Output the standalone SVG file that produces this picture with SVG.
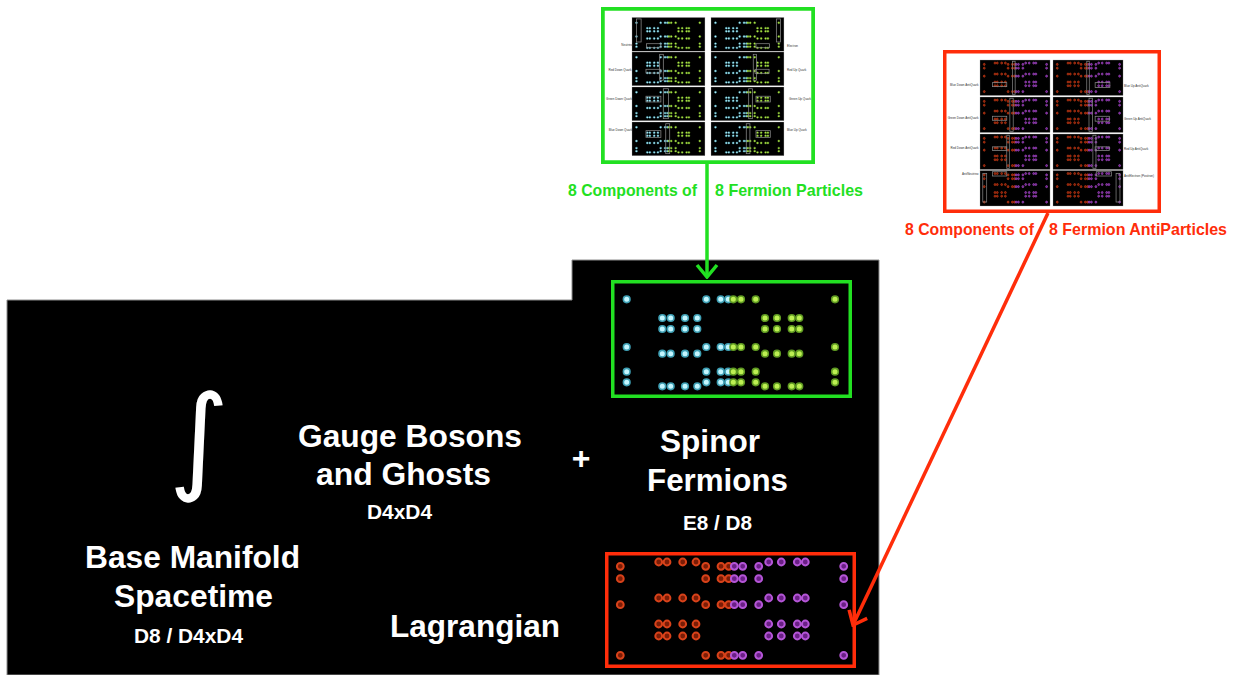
<svg xmlns="http://www.w3.org/2000/svg" xmlns:xlink="http://www.w3.org/1999/xlink" width="1239" height="675" viewBox="0 0 1239 675">
<style>
.big{font-family:"Liberation Sans",Arial,sans-serif;font-weight:bold;fill:#ffffff;font-size:32px}
.sub{font-family:"Liberation Sans",Arial,sans-serif;font-weight:bold;fill:#ffffff;font-size:20px}
.lblg{font-family:"Liberation Sans",Arial,sans-serif;font-weight:bold;fill:#22e022;font-size:17px}
.lblr{font-family:"Liberation Sans",Arial,sans-serif;font-weight:bold;fill:#ff2d0a;font-size:17px}
.tiny{font-family:"Liberation Sans",Arial,sans-serif;fill:#333333;font-size:3px}
.cy circle{fill:#c4f6ff;stroke:#3e9fb4;stroke-width:1.6}
.gr circle{fill:#bdf052;stroke:#5f9a22;stroke-width:1.6}
.og circle{fill:#7a1c06;stroke:#d8421a;stroke-width:2}
.pu circle{fill:#6a1f86;stroke:#b455d6;stroke-width:2}
.mini{fill:#000000;stroke:#a0a0a0;stroke-width:1}
.hl{fill:none;stroke:#8a8a8a;stroke-width:2.5}
.gbox{fill:none;stroke:#22e022;stroke-width:3.5}
.rbox{fill:none;stroke:#ff2d0a;stroke-width:3.5}
</style>
<defs>
<g id="gdots">
<g class="cy">
<circle cx="14.7" cy="18.3" r="3.3"/><circle cx="94.3" cy="18.3" r="3.3"/><circle cx="108.7" cy="18.3" r="3.3"/><circle cx="116.3" cy="18.3" r="3.3"/>
<circle cx="14.7" cy="66" r="3.3"/><circle cx="94.3" cy="66" r="3.3"/><circle cx="108.7" cy="66" r="3.3"/><circle cx="116.3" cy="66" r="3.3"/>
<circle cx="14.7" cy="90.7" r="3.3"/><circle cx="94.3" cy="90.7" r="3.3"/><circle cx="108.7" cy="90.7" r="3.3"/><circle cx="116.3" cy="90.7" r="3.3"/>
<circle cx="14.7" cy="101.3" r="3.3"/><circle cx="94.3" cy="101.3" r="3.3"/><circle cx="108.7" cy="101.3" r="3.3"/><circle cx="116.3" cy="101.3" r="3.3"/>
<circle cx="50.3" cy="37" r="3.3"/><circle cx="58.7" cy="37" r="3.3"/><circle cx="73" cy="37" r="3.3"/><circle cx="85.3" cy="37" r="3.3"/>
<circle cx="50.3" cy="48" r="3.3"/><circle cx="58.7" cy="48" r="3.3"/><circle cx="73" cy="48" r="3.3"/><circle cx="85.3" cy="48" r="3.3"/>
<circle cx="50.3" cy="72.7" r="3.3"/><circle cx="58.7" cy="72.7" r="3.3"/><circle cx="73" cy="72.7" r="3.3"/><circle cx="85.3" cy="72.7" r="3.3"/>
<circle cx="50.3" cy="105.3" r="3.3"/><circle cx="58.7" cy="105.3" r="3.3"/><circle cx="73" cy="105.3" r="3.3"/><circle cx="85.3" cy="105.3" r="3.3"/>
</g>
<g class="gr">
<circle cx="121.3" cy="18.3" r="3.3"/><circle cx="129" cy="18.3" r="3.3"/><circle cx="143.7" cy="18.3" r="3.3"/><circle cx="223" cy="18.3" r="3.3"/>
<circle cx="121.3" cy="66" r="3.3"/><circle cx="129" cy="66" r="3.3"/><circle cx="143.7" cy="66" r="3.3"/><circle cx="223" cy="66" r="3.3"/>
<circle cx="121.3" cy="90.7" r="3.3"/><circle cx="129" cy="90.7" r="3.3"/><circle cx="143.7" cy="90.7" r="3.3"/><circle cx="223" cy="90.7" r="3.3"/>
<circle cx="121.3" cy="101.3" r="3.3"/><circle cx="129" cy="101.3" r="3.3"/><circle cx="143.7" cy="101.3" r="3.3"/><circle cx="223" cy="101.3" r="3.3"/>
<circle cx="153" cy="37" r="3.3"/><circle cx="165" cy="37" r="3.3"/><circle cx="179.7" cy="37" r="3.3"/><circle cx="187.3" cy="37" r="3.3"/>
<circle cx="153" cy="48" r="3.3"/><circle cx="165" cy="48" r="3.3"/><circle cx="179.7" cy="48" r="3.3"/><circle cx="187.3" cy="48" r="3.3"/>
<circle cx="153" cy="72.7" r="3.3"/><circle cx="165" cy="72.7" r="3.3"/><circle cx="179.7" cy="72.7" r="3.3"/><circle cx="187.3" cy="72.7" r="3.3"/>
<circle cx="153" cy="105.3" r="3.3"/><circle cx="165" cy="105.3" r="3.3"/><circle cx="179.7" cy="105.3" r="3.3"/><circle cx="187.3" cy="105.3" r="3.3"/>
</g>
</g>
<g id="rdots">
<g class="og">
<circle cx="15.3" cy="14.3" r="3.4"/><circle cx="100.7" cy="14.3" r="3.4"/><circle cx="116" cy="14.3" r="3.4"/><circle cx="123.7" cy="14.3" r="3.4"/>
<circle cx="15.3" cy="26.7" r="3.4"/><circle cx="100.7" cy="26.7" r="3.4"/><circle cx="116" cy="26.7" r="3.4"/><circle cx="123.7" cy="26.7" r="3.4"/>
<circle cx="15.3" cy="52.7" r="3.4"/><circle cx="100.7" cy="52.7" r="3.4"/><circle cx="116" cy="52.7" r="3.4"/><circle cx="123.7" cy="52.7" r="3.4"/>
<circle cx="15.3" cy="103.3" r="3.4"/><circle cx="100.7" cy="103.3" r="3.4"/><circle cx="116" cy="103.3" r="3.4"/><circle cx="123.7" cy="103.3" r="3.4"/>
<circle cx="53.7" cy="10" r="3.4"/><circle cx="62" cy="10" r="3.4"/><circle cx="77.7" cy="10" r="3.4"/><circle cx="91" cy="10" r="3.4"/>
<circle cx="53.7" cy="46" r="3.4"/><circle cx="62" cy="46" r="3.4"/><circle cx="77.7" cy="46" r="3.4"/><circle cx="91" cy="46" r="3.4"/>
<circle cx="53.7" cy="72" r="3.4"/><circle cx="62" cy="72" r="3.4"/><circle cx="77.7" cy="72" r="3.4"/><circle cx="91" cy="72" r="3.4"/>
<circle cx="53.7" cy="84" r="3.4"/><circle cx="62" cy="84" r="3.4"/><circle cx="77.7" cy="84" r="3.4"/><circle cx="91" cy="84" r="3.4"/>
</g>
<g class="pu">
<circle cx="129.3" cy="14.3" r="3.4"/><circle cx="137.7" cy="14.3" r="3.4"/><circle cx="153.7" cy="14.3" r="3.4"/><circle cx="238.7" cy="14.3" r="3.4"/>
<circle cx="129.3" cy="26.7" r="3.4"/><circle cx="137.7" cy="26.7" r="3.4"/><circle cx="153.7" cy="26.7" r="3.4"/><circle cx="238.7" cy="26.7" r="3.4"/>
<circle cx="129.3" cy="52.7" r="3.4"/><circle cx="137.7" cy="52.7" r="3.4"/><circle cx="153.7" cy="52.7" r="3.4"/><circle cx="238.7" cy="52.7" r="3.4"/>
<circle cx="129.3" cy="103.3" r="3.4"/><circle cx="137.7" cy="103.3" r="3.4"/><circle cx="153.7" cy="103.3" r="3.4"/><circle cx="238.7" cy="103.3" r="3.4"/>
<circle cx="163.7" cy="10" r="3.4"/><circle cx="176.3" cy="10" r="3.4"/><circle cx="192.3" cy="10" r="3.4"/><circle cx="200.3" cy="10" r="3.4"/>
<circle cx="163.7" cy="46" r="3.4"/><circle cx="176.3" cy="46" r="3.4"/><circle cx="192.3" cy="46" r="3.4"/><circle cx="200.3" cy="46" r="3.4"/>
<circle cx="163.7" cy="72" r="3.4"/><circle cx="176.3" cy="72" r="3.4"/><circle cx="192.3" cy="72" r="3.4"/><circle cx="200.3" cy="72" r="3.4"/>
<circle cx="163.7" cy="84" r="3.4"/><circle cx="176.3" cy="84" r="3.4"/><circle cx="192.3" cy="84" r="3.4"/><circle cx="200.3" cy="84" r="3.4"/>
</g>
</g>
<marker id="ag" viewBox="0 0 16 24" refX="14" refY="12" markerWidth="16" markerHeight="24" markerUnits="userSpaceOnUse" orient="auto">
<path d="M2,2 L14,12 L2,22" fill="none" stroke="#22e022" stroke-width="3.5" stroke-linejoin="miter"/>
</marker>
<marker id="ar" viewBox="0 0 16 24" refX="14" refY="12" markerWidth="16" markerHeight="24" markerUnits="userSpaceOnUse" orient="auto">
<path d="M2,2 L14,12 L2,22" fill="none" stroke="#ff2d0a" stroke-width="3.5" stroke-linejoin="miter"/>
</marker>
</defs>

<rect width="1239" height="675" fill="#ffffff"/>

<g id="background">
<path d="M7,300 H572 V260 H879 V675 H7 Z" fill="#000000" stroke="#8c8c8c" stroke-width="1"/>
</g>

<g id="node-particle-thumbnails">
<rect class="gbox" x="602.75" y="8.75" width="210.5" height="153.5" fill="#ffffff"/>
<rect class="gbox" x="602.75" y="8.75" width="210.5" height="153.5"/>
<g transform="translate(632,17.5) scale(0.304,0.288)"><rect class="mini" x="0" y="0" width="240" height="117" stroke-width="3"/><use href="#gdots"/><rect class="hl" x="15" y="5" width="15" height="80"/><rect class="hl" x="48" y="91" width="47" height="14"/></g>
<g transform="translate(711,17.5) scale(0.304,0.288)"><rect class="mini" x="0" y="0" width="240" height="117" stroke-width="3"/><use href="#gdots"/><rect class="hl" x="215" y="5" width="14" height="80"/><rect class="hl" x="148" y="91" width="44" height="14"/></g>
<g transform="translate(632,52) scale(0.304,0.288)"><rect class="mini" x="0" y="0" width="240" height="117" stroke-width="3"/><use href="#gdots"/><rect class="hl" x="91" y="8" width="12" height="90"/><rect class="hl" x="46" y="60" width="49" height="13"/></g>
<g transform="translate(711,52) scale(0.304,0.288)"><rect class="mini" x="0" y="0" width="240" height="117" stroke-width="3"/><use href="#gdots"/><rect class="hl" x="139" y="8" width="11" height="90"/><rect class="hl" x="145" y="60" width="46" height="14"/></g>
<g transform="translate(632,87) scale(0.304,0.288)"><rect class="mini" x="0" y="0" width="240" height="117" stroke-width="3"/><use href="#gdots"/><rect class="hl" x="103" y="6" width="17" height="104"/><rect class="hl" x="46" y="32" width="49" height="20"/></g>
<g transform="translate(711,87) scale(0.304,0.288)"><rect class="mini" x="0" y="0" width="240" height="117" stroke-width="3"/><use href="#gdots"/><rect class="hl" x="124" y="6" width="12" height="104"/><rect class="hl" x="148" y="32" width="47" height="20"/></g>
<g transform="translate(632,122) scale(0.304,0.288)"><rect class="mini" x="0" y="0" width="240" height="117" stroke-width="3"/><use href="#gdots"/><rect class="hl" x="111" y="6" width="13" height="104"/><rect class="hl" x="46" y="30" width="49" height="24"/></g>
<g transform="translate(711,122) scale(0.304,0.288)"><rect class="mini" x="0" y="0" width="240" height="117" stroke-width="3"/><use href="#gdots"/><rect class="hl" x="116" y="6" width="12" height="104"/><rect class="hl" x="148" y="30" width="47" height="24"/></g>
<text class="tiny" x="627" y="46" text-anchor="middle">Neutrino</text>
<text class="tiny" x="620" y="71" text-anchor="middle">Red Down Quark</text>
<text class="tiny" x="619" y="100" text-anchor="middle">Green Down Quark</text>
<text class="tiny" x="620.5" y="131" text-anchor="middle">Blue Down Quark</text>
<text class="tiny" x="787" y="47">Electron</text>
<text class="tiny" x="787" y="71">Red Up Quark</text>
<text class="tiny" x="789" y="100">Green Up Quark</text>
<text class="tiny" x="787" y="131">Blue Up Quark</text>
</g>

<g id="node-antiparticle-thumbnails">
<rect class="rbox" x="944.75" y="51.75" width="214.5" height="159.5" fill="#ffffff"/>
<g transform="translate(980,60) scale(0.279,0.306)"><rect class="mini" x="0" y="0" width="251" height="116" stroke-width="3"/><use href="#rdots"/><rect class="hl" x="117" y="4" width="9" height="108"/><rect class="hl" x="45" y="74" width="51" height="13"/></g>
<g transform="translate(1053,60) scale(0.279,0.306)"><rect class="mini" x="0" y="0" width="251" height="116" stroke-width="3"/><use href="#rdots"/><rect class="hl" x="121" y="4" width="9" height="108"/><rect class="hl" x="151" y="74" width="53" height="16"/></g>
<g transform="translate(980,97) scale(0.279,0.306)"><rect class="mini" x="0" y="0" width="251" height="116" stroke-width="3"/><use href="#rdots"/><rect class="hl" x="107" y="4" width="12" height="108"/><rect class="hl" x="45" y="63" width="51" height="13"/></g>
<g transform="translate(1053,97) scale(0.279,0.306)"><rect class="mini" x="0" y="0" width="251" height="116" stroke-width="3"/><use href="#rdots"/><rect class="hl" x="129" y="4" width="13" height="108"/><rect class="hl" x="151" y="63" width="52" height="16"/></g>
<g transform="translate(980,134) scale(0.279,0.306)"><rect class="mini" x="0" y="0" width="251" height="116" stroke-width="3"/><use href="#rdots"/><rect class="hl" x="96" y="4" width="9" height="108"/><rect class="hl" x="45" y="42" width="51" height="12"/></g>
<g transform="translate(1053,134) scale(0.279,0.306)"><rect class="mini" x="0" y="0" width="251" height="116" stroke-width="3"/><use href="#rdots"/><rect class="hl" x="143" y="4" width="11" height="108"/><rect class="hl" x="151" y="42" width="52" height="12"/></g>
<g transform="translate(980,170.5) scale(0.279,0.306)"><rect class="mini" x="0" y="0" width="251" height="116" stroke-width="3"/><use href="#rdots"/><rect class="hl" x="10" y="10" width="14" height="93"/><rect class="hl" x="45" y="4" width="51" height="14"/></g>
<g transform="translate(1053,170.5) scale(0.279,0.306)"><rect class="mini" x="0" y="0" width="251" height="116" stroke-width="3"/><use href="#rdots"/><rect class="hl" x="226" y="10" width="14" height="93"/><rect class="hl" x="155" y="4" width="55" height="14"/></g>
<text class="tiny" x="978.5" y="86" text-anchor="end">Blue Down AntiQuark</text>
<text class="tiny" x="978.5" y="119" text-anchor="end">Green Down AntiQuark</text>
<text class="tiny" x="978.5" y="149" text-anchor="end">Red Down AntiQuark</text>
<text class="tiny" x="978.5" y="175" text-anchor="end">AntiNeutrino</text>
<text class="tiny" x="1124" y="86.5">Blue Up AntiQuark</text>
<text class="tiny" x="1124" y="119.5">Green Up AntiQuark</text>
<text class="tiny" x="1124" y="149.5">Red Up AntiQuark</text>
<text class="tiny" x="1124" y="176.5">AntiElectron (Positron)</text>
</g>

<g id="node-label-particles">
<text class="lblg" x="568" y="196" textLength="129" lengthAdjust="spacingAndGlyphs">8 Components of</text>
<text class="lblg" x="715" y="196" textLength="148" lengthAdjust="spacingAndGlyphs">8 Fermion Particles</text>
</g>
<g id="node-label-antiparticles">
<text class="lblr" x="905" y="235" textLength="129" lengthAdjust="spacingAndGlyphs">8 Components of</text>
<text class="lblr" x="1049" y="235" textLength="178" lengthAdjust="spacingAndGlyphs">8 Fermion AntiParticles</text>
</g>

<g id="node-fermion-panel">
<use href="#gdots" transform="translate(612,281)"/>
<rect class="gbox" x="612.75" y="281.75" width="237.5" height="114.5"/>
</g>

<g id="node-antifermion-panel">
<use href="#rdots" transform="translate(605,552)"/>
<rect class="rbox" x="606.75" y="553.75" width="247.5" height="112.5"/>
</g>

<g id="node-integral">
<text x="199" y="478" font-family="DejaVu Sans, sans-serif" font-size="116" fill="#ffffff" text-anchor="middle">∫</text>
</g>
<g id="node-gauge">
<text class="big" x="298" y="447" textLength="224" lengthAdjust="spacingAndGlyphs">Gauge Bosons</text>
<text class="big" x="316" y="485" textLength="175" lengthAdjust="spacingAndGlyphs">and Ghosts</text>
<text class="sub" x="367" y="519" textLength="65" lengthAdjust="spacingAndGlyphs">D4xD4</text>
</g>
<g id="node-plus">
<text class="big" x="581" y="469" text-anchor="middle">+</text>
</g>
<g id="node-spinor">
<text class="big" x="660" y="452" textLength="100" lengthAdjust="spacingAndGlyphs">Spinor</text>
<text class="big" x="647" y="491" textLength="141" lengthAdjust="spacingAndGlyphs">Fermions</text>
<text class="sub" x="683" y="530" textLength="69" lengthAdjust="spacingAndGlyphs">E8 / D8</text>
</g>
<g id="node-base">
<text class="big" x="85" y="568" textLength="215" lengthAdjust="spacingAndGlyphs">Base Manifold</text>
<text class="big" x="114" y="607" textLength="159" lengthAdjust="spacingAndGlyphs">Spacetime</text>
<text class="sub" x="134" y="643" textLength="109" lengthAdjust="spacingAndGlyphs">D8 / D4xD4</text>
</g>
<g id="node-lagrangian">
<text class="big" x="390" y="637" textLength="170" lengthAdjust="spacingAndGlyphs">Lagrangian</text>
</g>

<g id="connectors">
<line x1="707" y1="164" x2="707" y2="277" stroke="#22e022" stroke-width="3.5" marker-end="url(#ag)"/>
<line x1="1048" y1="213" x2="853" y2="625" stroke="#ff2d0a" stroke-width="3.5" marker-end="url(#ar)"/>
</g>
</svg>
